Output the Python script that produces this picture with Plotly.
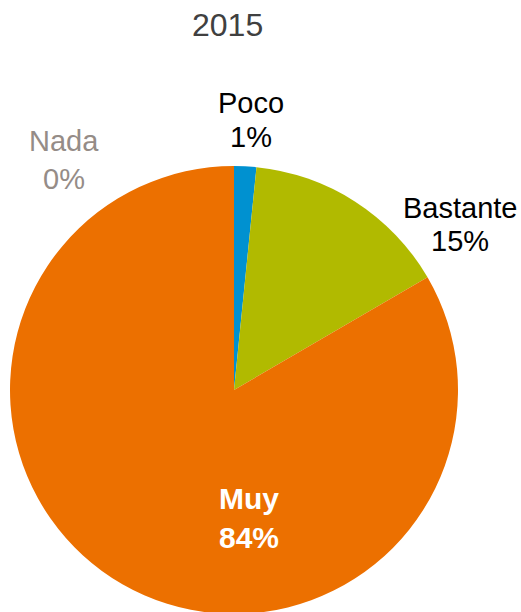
import plotly.graph_objects as go

title_text = "2015"
categories = ["Nada", "Poco", "Bastante", "Muy"]
values = [0.0, 1.6, 15.0, 83.4]
pct_labels = ["0%", "1%", "15%", "84%"]
colors = ["#9A918C", "#0091D0", "#B1BA00", "#EC7000"]
label_colors = ["#958C87", "#000000", "#000000", "#FFFFFF"]

# figure is 2px taller than the window: the pie is cut at the bottom edge as in the reference
W, H = 521, 614
FONT = "Liberation Sans, Arial, sans-serif"


def px(x):
    return x / W


def py(y):
    return 1 - y / H


fig = go.Figure()
fig.add_trace(go.Pie(
    labels=categories,
    values=values,
    sort=False,
    direction="clockwise",
    rotation=0,
    marker=dict(colors=colors, line=dict(width=0)),
    textinfo="none",
    hoverinfo="label+percent",
    showlegend=False,
    domain=dict(x=[px(10), px(458)], y=[0, py(166)]),
))

# label positions in window pixel coords (x, y of name line, y of pct line)
label_pos = {
    "Nada": (64, 141, 179),
    "Poco": (251, 103, 137),
    "Bastante": (460, 208, 241),
    "Muy": (249, 498, 537),
}

annotations = [dict(
    text=title_text, x=px(227), y=py(25), xref="paper", yref="paper",
    xanchor="center", yanchor="middle", showarrow=False,
    font=dict(family=FONT, size=32, color="#404040"),
)]
for cat, pct, col in zip(categories, pct_labels, label_colors):
    x, y1, y2 = label_pos[cat]
    bold = cat == "Muy"
    for txt, yy in ((cat, y1), (pct, y2)):
        annotations.append(dict(
            text=f"<b>{txt}</b>" if bold else txt,
            x=px(x), y=py(yy), xref="paper", yref="paper",
            xanchor="center", yanchor="middle", showarrow=False,
            font=dict(family=FONT, size=30 if bold else 29, color=col),
        ))

fig.update_layout(
    width=W, height=H,
    margin=dict(l=0, r=0, t=0, b=0),
    paper_bgcolor="white", plot_bgcolor="white",
    annotations=annotations,
)
fig.write_html(
    "out.html",
    config={"displayModeBar": False},
    post_script="document.body.style.margin='0';document.body.style.overflow='hidden';",
)
